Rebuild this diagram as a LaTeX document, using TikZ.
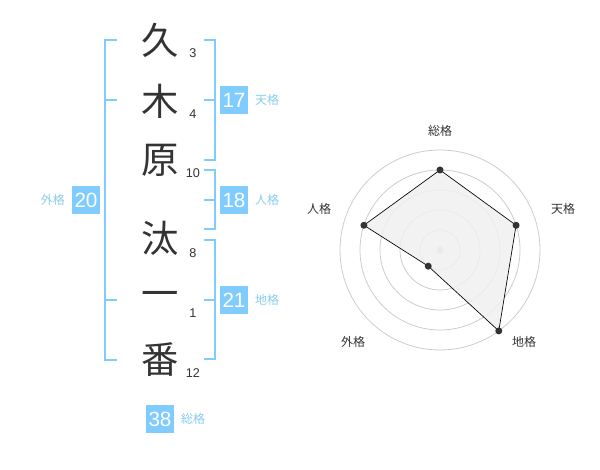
\documentclass[tikz,border=0pt]{standalone}
\usepackage{fontspec}
\setmainfont{Noto Sans CJK JP}
\newfontfamily\numfont{Liberation Sans}
\usetikzlibrary{positioning,calc}
\definecolor{kanji}{HTML}{333333}
\definecolor{boxblue}{HTML}{80CCFF}
\definecolor{lblblue}{HTML}{88CCEE}
\definecolor{ring}{HTML}{CCCCCC}
\definecolor{area}{HTML}{F0F0F0}
\tikzset{
	kan/.style={inner sep=0pt, text=kanji, font=\fontsize{28pt}{28pt}\selectfont},
	cnt/.style={inner sep=0pt, text=kanji, font=\numfont\fontsize{9.5pt}{10pt}\selectfont},
	score/.style={fill=boxblue, text=white, minimum size=21pt, inner sep=0pt, font=\numfont\fontsize{15.5pt}{16pt}\selectfont},
	kaku/.style={inner sep=0pt, text=lblblue, font=\fontsize{9pt}{10pt}\selectfont},
	axis/.style={inner sep=0pt, text=kanji, font=\fontsize{9pt}{10pt}\selectfont},
	brk/.style={boxblue, line width=1.5pt}
}

\begin{document}
\begin{tikzpicture}[x=0.75pt, y=-0.75pt]
	\useasboundingbox (0,0) rectangle (600,470);

	% name
	\node[kan] (k1) at (160, 40) {久};
	\node[kan] (k2) at (160, 101) {木};
	\node[kan] (k3) at (160, 160) {原};
	\node[kan] (k4) at (160, 238) {汰};
	\node[kan] (k5) at (160, 299) {一};
	\node[kan] (k6) at (160, 360) {番};

	\node[cnt] (n1) at (193, 53) {3};
	\node[cnt] (n2) at (193, 114) {4};
	\node[cnt] (n3) at (193, 173) {10};
	\node[cnt] (n4) at (193, 253) {8};
	\node[cnt] (n5) at (193, 313) {1};
	\node[cnt] (n6) at (193, 373) {12};

	% brackets
	\draw[brk] (117, 40) -- (105, 40) -- (105, 360) -- (117, 360);
	\draw[brk] (105, 100) -- (117, 100);
	\draw[brk] (105, 300) -- (117, 300);
	\draw[brk] (204, 40) -- (215, 40) -- (215, 160) -- (204, 160);
	\draw[brk] (204, 100) -- (215, 100);
	\draw[brk] (204, 170) -- (215, 170) -- (215, 229) -- (204, 229);
	\draw[brk] (204, 200) -- (215, 200);
	\draw[brk] (204, 240) -- (215, 240) -- (215, 359) -- (204, 359);
	\draw[brk] (204, 300) -- (215, 300);

	% scores
	\node[score] (ten) at (234, 100) {17};
	\node[kaku, right=5pt of ten] (tenl) {天格};
	\node[score] (jin) at (234, 200) {18};
	\node[kaku, right=5pt of jin] (jinl) {人格};
	\node[score] (chi) at (234, 300) {21};
	\node[kaku, right=5pt of chi] (chil) {地格};
	\node[score] (gai) at (86, 200) {20};
	\node[kaku, left=5pt of gai] (gail) {外格};
	\node[score] (sou) at (160, 419) {38};
	\node[kaku, right=5pt of sou] (soul) {総格};

	% radar (y runs downwards, so angles are negated)
	\foreach \r in {20,40,...,100}
		\draw[ring, line width=0.6pt] (440, 250) circle[radius=\r];
	\fill[ring] (440, 250) circle[radius=3.5];
	\coordinate (rs) at ($(440,250)+(-90:80)$);
	\coordinate (rt) at ($(440,250)+(-18:80)$);
	\coordinate (rc) at ($(440,250)+(54:100)$);
	\coordinate (rg) at ($(440,250)+(126:20)$);
	\coordinate (rj) at ($(440,250)+(-162:80)$);
	\path[fill=area, fill opacity=0.85] (rs) -- (rt) -- (rc) -- (rg) -- (rj) -- cycle;
	\draw[black, line width=0.5pt] (rs) -- (rt) -- (rc) -- (rg) -- (rj) -- cycle;
	\foreach \p in {rs,rt,rc,rg,rj}
		\fill[kanji] (\p) circle[radius=3.5];

	\node[axis] (as) at (440, 131) {総格};
	\node[axis] (at) at (563, 209) {天格};
	\node[axis] (ac) at (524, 342) {地格};
	\node[axis] (ag) at (353, 342) {外格};
	\node[axis] (aj) at (319, 209) {人格};
\end{tikzpicture}
\end{document}
